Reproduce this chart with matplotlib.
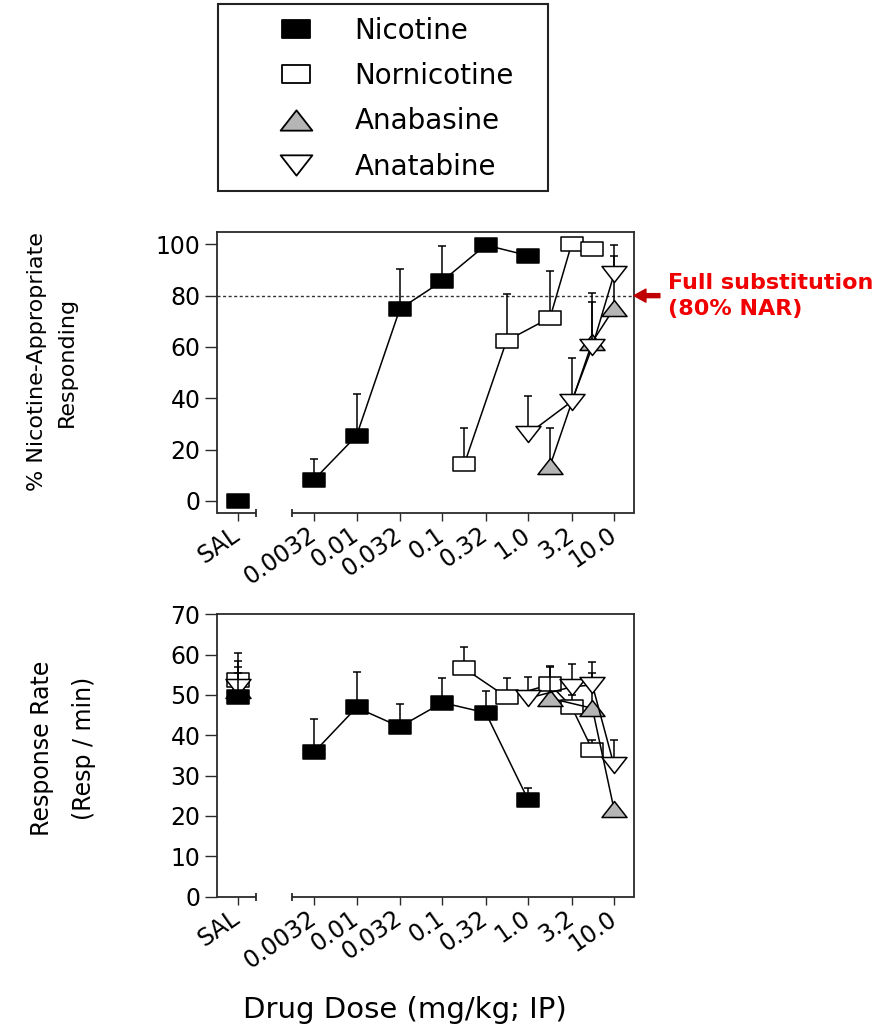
import numpy as np
import matplotlib
matplotlib.use("Agg")
import matplotlib.pyplot as plt
from matplotlib.path import Path
from matplotlib.patches import Rectangle
from matplotlib.lines import Line2D
from matplotlib.transforms import blended_transform_factory

plt.rcParams['font.family'] = ['DejaVu Sans']

# dose axis
tick_doses = [0.0032, 0.01, 0.032, 0.1, 0.32, 1.0, 3.2, 10.0]
tick_labels = ["0.0032", "0.01", "0.032", "0.1", "0.32", "1.0", "3.2", "10.0"]

# % nicotine-appropriate responding: mean and +SEM
nic_nar_dose = ["SAL", 0.0032, 0.01, 0.032, 0.1, 0.32, 1.0]
nic_nar = [0.0, 8.3, 25.4, 74.8, 85.7, 99.7, 95.6]
nic_nar_sem = [0.0, 8.2, 16.4, 15.5, 13.7, 0.0, 0.0]

nor_nar_dose = [0.18, 0.56, 1.8, 3.2, 5.6]
nor_nar = [14.3, 62.4, 71.4, 100.0, 98.0]
nor_nar_sem = [14.3, 18.2, 18.2, 0.0, 0.0]

anb_nar_dose = [1.8, 5.6, 10.0]
anb_nar = [13.7, 62.0, 75.0]
anb_nar_sem = [14.9, 19.2, 20.5]

ant_nar_dose = [1.0, 3.2, 5.6, 10.0]
ant_nar = [26.1, 38.7, 60.1, 88.3]
ant_nar_sem = [14.9, 17.1, 17.6, 11.4]

# response rate (resp/min): mean and +SEM
nic_rate_dose = ["SAL", 0.0032, 0.01, 0.032, 0.1, 0.32, 1.0]
nic_rate = [49.6, 35.8, 46.9, 42.1, 48.1, 45.6, 24.0]
nic_rate_sem = [5.8, 8.2, 8.9, 5.6, 6.0, 5.4, 3.0]

nor_rate_dose = ["SAL", 0.18, 0.56, 1.8, 3.2, 5.6]
nor_rate = [53.7, 56.6, 49.5, 52.6, 47.1, 36.4]
nor_rate_sem = [6.6, 5.2, 4.6, 4.6, 3.0, 2.4]

anb_rate_dose = ["SAL", 1.8, 5.6, 10.0]
anb_rate = [51.3, 49.2, 46.7, 21.7]
anb_rate_sem = [7.2, 7.8, 8.7, 0.0]

ant_rate_dose = ["SAL", 1.0, 3.2, 5.6, 10.0]
ant_rate = [52.0, 49.2, 52.0, 52.5, 32.6]
ant_rate_sem = [4.9, 5.3, 5.8, 5.8, 6.2]

SAL_POS = -3.384
X_LEFT, X_RIGHT = -3.629, 1.233
BRK_LO, BRK_HI = -3.174, -2.751
SPINE_C = '#2a2a2a'

def closed(verts):
    return Path(verts + [verts[0]], closed=True)

rect_m = closed([(-1, -0.68), (1, -0.68), (1, 0.68), (-1, 0.68)])
up_m = closed([(-1, -0.64), (1, -0.64), (0, 0.64)])
dn_m = closed([(-1, 0.64), (1, 0.64), (0, -0.64)])

styles = {
    'Nicotine': dict(marker=rect_m, ms=15.5, mfc='black'),
    'Nornicotine': dict(marker=rect_m, ms=15.5, mfc='white'),
    'Anabasine': dict(marker=up_m, ms=18, mfc='#b5b5b5'),
    'Anatabine': dict(marker=dn_m, ms=18, mfc='white'),
}


def xpos(d):
    return SAL_POS if d == "SAL" else np.log10(d)


def draw(ax, name, doses, vals, sems, z):
    st = styles[name]
    kw = dict(color='k', lw=1.1, mec='k', mew=1.1, capsize=3.2, capthick=1.1,
              elinewidth=1.1, ecolor='k', zorder=z, **st)
    x = np.array([xpos(d) for d in doses])
    y = np.array(vals)
    e = np.array(sems)
    if doses[0] == "SAL":
        ax.errorbar(x[:1], y[:1], yerr=[[0], e[:1]], ls='none', **kw)
        x, y, e = x[1:], y[1:], e[1:]
    ax.errorbar(x, y, yerr=[np.zeros(len(e)), e], **kw)


def style_axes(ax):
    for s in ['left', 'top', 'right']:
        ax.spines[s].set_color(SPINE_C)
        ax.spines[s].set_linewidth(1.3)
    ax.spines['bottom'].set_visible(False)
    tr = blended_transform_factory(ax.transData, ax.transAxes)
    ax.plot([X_LEFT, BRK_LO], [0, 0], transform=tr, clip_on=False, color=SPINE_C,
            lw=1.3, solid_capstyle='butt')
    ax.plot([BRK_HI, X_RIGHT], [0, 0], transform=tr, clip_on=False, color=SPINE_C,
            lw=1.3, solid_capstyle='butt')
    ax.plot([BRK_LO, BRK_HI], [0, 0], transform=tr, clip_on=False, ls='none',
            marker='|', ms=6, mew=1.3, color=SPINE_C)
    ax.set_xticks([SAL_POS] + list(np.log10(tick_doses)), ["SAL"] + tick_labels,
                  rotation=35, ha='right', va='center', rotation_mode='anchor')
    ax.tick_params(axis='both', direction='out', width=1.0, color=SPINE_C, labelsize=17)
    ax.tick_params(axis='x', length=5.8, pad=8)
    ax.tick_params(axis='y', length=8.6, pad=3)
    ax.set_xlim(X_LEFT, X_RIGHT)


fig = plt.figure(figsize=(8.77, 10.29), dpi=100)
ax1 = fig.add_axes([0.2471, 0.5012, 0.4758, 0.2736])
ax2 = fig.add_axes([0.2471, 0.1286, 0.4758, 0.2744])

draw(ax1, 'Nornicotine', nor_nar_dose, nor_nar, nor_nar_sem, 3)
draw(ax1, 'Anabasine', anb_nar_dose, anb_nar, anb_nar_sem, 4)
draw(ax1, 'Anatabine', ant_nar_dose, ant_nar, ant_nar_sem, 5)
draw(ax1, 'Nicotine', nic_nar_dose, nic_nar, nic_nar_sem, 6)
ax1.axhline(80, ls=(0, (2.2, 1.8)), lw=1.0, color='#333333', zorder=1)
style_axes(ax1)
ax1.set_ylim(-4.8, 104.9)
ax1.set_yticks([0, 20, 40, 60, 80, 100])

draw(ax2, 'Nornicotine', nor_rate_dose, nor_rate, nor_rate_sem, 3)
draw(ax2, 'Anabasine', anb_rate_dose, anb_rate, anb_rate_sem, 4)
draw(ax2, 'Anatabine', ant_rate_dose, ant_rate, ant_rate_sem, 5)
draw(ax2, 'Nicotine', nic_rate_dose, nic_rate, nic_rate_sem, 6)
style_axes(ax2)
ax2.set_ylim(0, 70)
ax2.set_yticks(range(0, 71, 10))

# full substitution marker
ax1.annotate('', xy=(1.0, 80), xycoords=('axes fraction', 'data'),
             xytext=(1.062, 80), textcoords=('axes fraction', 'data'),
             arrowprops=dict(arrowstyle='simple,head_width=0.94,head_length=0.86,tail_width=0.29',
                             mutation_scale=10, color='#c00000', shrinkA=0, shrinkB=0),
             annotation_clip=False)
fig.text(668 / 877, 1 - 296 / 1029, "Full substitution\n(80% NAR)", color='#f00000',
         fontsize=16, fontweight='bold', ha='left', va='center', linespacing=1.35)

fig.text(52 / 877, 1 - 362 / 1029, "% Nicotine-Appropriate\nResponding", rotation=90,
         ha='center', va='center', multialignment='center', fontsize=16, linespacing=1.65)
fig.text(63 / 877, 1 - 748 / 1029, "Response Rate\n(Resp / min)", rotation=90,
         ha='center', va='center', multialignment='center', fontsize=17, linespacing=2.0)
fig.text(405 / 877, 1 - 1010 / 1029, "Drug Dose (mg/kg; IP)", ha='center', va='center',
         fontsize=21)

# legend
handles = [Line2D([], [], ls='none', mec='k', mew=1.3, **styles[n]) for n in styles]
fig.legend(handles, list(styles), loc='upper left', bbox_to_anchor=(268.6 / 877, 1 - 17 / 1029),
           frameon=False, borderpad=0, borderaxespad=0, handlelength=2.0, handletextpad=1.1,
           labelspacing=0.62, fontsize=20, markerscale=1.27)
fig.add_artist(Rectangle((218 / 877, 1 - 191 / 1029), 330 / 877, 187 / 1029,
                         transform=fig.transFigure, fill=False, ec='#222222', lw=1.5))

fig.savefig("out.png", dpi=100)
